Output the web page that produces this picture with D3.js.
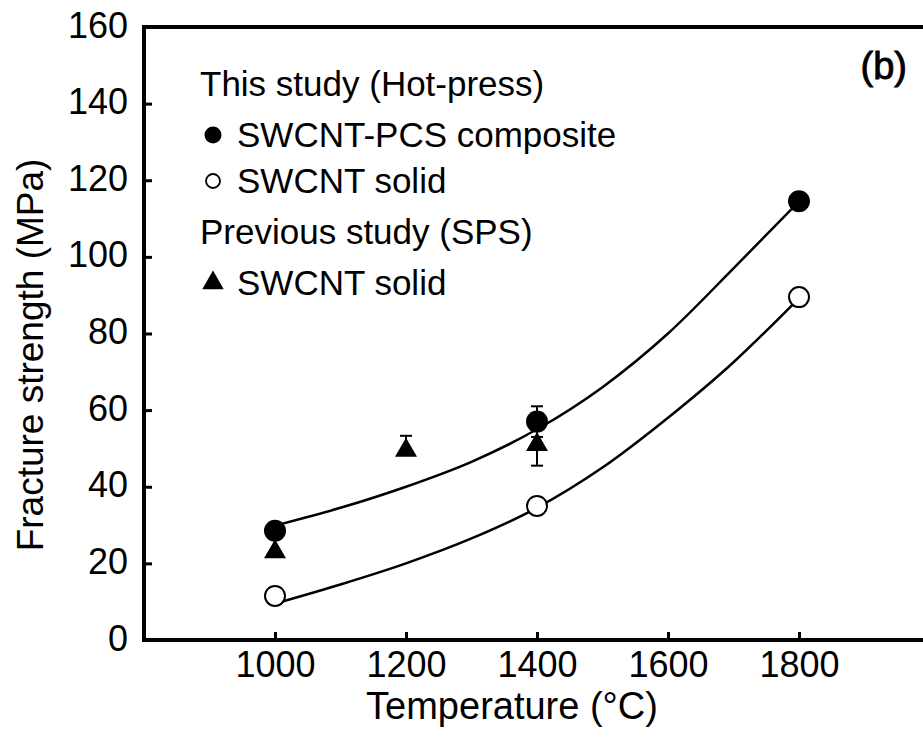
<!DOCTYPE html>
<html>
<head>
<meta charset="utf-8">
<script src="https://cdn.jsdelivr.net/npm/d3@7"></script>
<style>
  body { margin: 0; background: #fff; }
  svg { display: block; font-family: "Liberation Sans", Arial, sans-serif; }
</style>
</head>
<body>
<script>
const width = 923;
const height = 740;

// data
const temps = [1000, 1400, 1800];
const composite = [28.5, 57, 114.5];
const compositeErrUp = [0, 4, 0];
const compositeErrDown = [0, 4, 0];
const solid = [11.5, 35, 89.5];

const spsTemps = [1000, 1200, 1400];
const sps = [23, 49.5, 51];
const spsErrUp = [0, 3.8, 5.5];
const spsErrDown = [0, 1, 5.5];

// fitted curves
const fitTemps = [1010, 1100, 1200, 1300, 1400, 1500, 1600, 1700, 1790];
const fitComposite = [30.3, 34.5, 40, 46.5, 55, 66, 80, 97, 112.7];
const fitSolid = [10, 14.5, 20, 26.5, 34.5, 45, 58, 72.5, 87.5];

const xTicks = [1000, 1200, 1400, 1600, 1800];
const yTicks = [0, 20, 40, 60, 80, 100, 120, 140, 160];

const legendGroups = [
    {header: "This study (Hot-press)", items: [
        {label: "SWCNT-PCS composite", symbol: "filled"},
        {label: "SWCNT solid", symbol: "open"}
    ]},
    {header: "Previous study (SPS)", items: [
        {label: "SWCNT solid", symbol: "triangle"}
    ]}
];

const svg = d3.select("body").append("svg")
    .attr("width", width)
    .attr("height", height);

const xScale = d3.scaleLinear().domain([800, 2000]).range([144, 930]);
const yScale = d3.scaleLinear().domain([0, 160]).range([640, 27]);

// axes (inward ticks)
const xAxis = svg.append("g")
    .attr("transform", `translate(0,${yScale(0)})`)
    .call(d3.axisBottom(xScale).tickValues(xTicks).tickFormat(d3.format("d"))
        .tickSize(-8).tickPadding(11));
const yAxis = svg.append("g")
    .attr("transform", `translate(${xScale(800)},0)`)
    .call(d3.axisLeft(yScale).tickValues(yTicks).tickSize(-8).tickPadding(16));

[xAxis, yAxis].forEach(a => {
    a.select(".domain").remove();
    a.selectAll(".tick line").attr("stroke", "#000").attr("stroke-width", 3);
    a.selectAll(".tick text")
        .attr("fill", "#000")
        .style("font-size", "36px")
        .style("font-family", "Liberation Sans, Arial, sans-serif");
});
yAxis.selectAll(".tick text").attr("dy", "0.28em");

// frame (right side is outside the picture)
svg.append("path")
    .attr("d", `M${xScale(2000)},${yScale(160)} H${xScale(800)} V${yScale(0)} H${xScale(2000)}`)
    .attr("fill", "none")
    .attr("stroke", "#000")
    .attr("stroke-width", 4);

// axis titles
svg.append("text")
    .attr("x", 512)
    .attr("y", 719)
    .attr("text-anchor", "middle")
    .style("font-size", "38px")
    .text("Temperature (°C)");

svg.append("text")
    .attr("transform", "translate(43,355) rotate(-90)")
    .attr("text-anchor", "middle")
    .style("font-size", "37px")
    .text("Fracture strength (MPa)");

svg.append("text")
    .attr("x", 907)
    .attr("y", 79)
    .attr("text-anchor", "end")
    .style("font-size", "38px")
    .attr("stroke", "#000")
    .attr("stroke-width", 0.9)
    .text("(b)");

// fitted lines
const line = d3.line()
    .x(d => xScale(d[0]))
    .y(d => yScale(d[1]))
    .curve(d3.curveMonotoneX);

[fitComposite, fitSolid].forEach(vals => {
    svg.append("path")
        .datum(fitTemps.map((t, i) => [t, vals[i]]))
        .attr("d", line)
        .attr("fill", "none")
        .attr("stroke", "#000")
        .attr("stroke-width", 2.5);
});

// error bars
function errorBars(ts, vals, up, down) {
    const d = ts.map((t, i) => ({t, v: vals[i], u: up[i], l: down[i]})).filter(d => d.u > 0);
    const g = svg.append("g").attr("stroke", "#000").attr("stroke-width", 2);
    g.selectAll("line.v").data(d).enter().append("line")
        .attr("x1", d => xScale(d.t)).attr("x2", d => xScale(d.t))
        .attr("y1", d => yScale(d.v - d.l)).attr("y2", d => yScale(d.v + d.u));
    g.selectAll("line.top").data(d).enter().append("line")
        .attr("x1", d => xScale(d.t) - 6).attr("x2", d => xScale(d.t) + 6)
        .attr("y1", d => yScale(d.v + d.u)).attr("y2", d => yScale(d.v + d.u));
    g.selectAll("line.bot").data(d).enter().append("line")
        .attr("x1", d => xScale(d.t) - 6).attr("x2", d => xScale(d.t) + 6)
        .attr("y1", d => yScale(d.v - d.l)).attr("y2", d => yScale(d.v - d.l));
}
errorBars(temps, composite, compositeErrUp, compositeErrDown);
errorBars(spsTemps, sps, spsErrUp, spsErrDown);

// markers
const tri = d3.symbol().type(d3.symbolTriangle);

svg.selectAll(".solid").data(temps).enter().append("circle")
    .attr("class", "solid")
    .attr("cx", d => xScale(d))
    .attr("cy", (d, i) => yScale(solid[i]))
    .attr("r", 10)
    .attr("fill", "#fff")
    .attr("stroke", "#000")
    .attr("stroke-width", 2);

svg.selectAll(".composite").data(temps).enter().append("circle")
    .attr("class", "composite")
    .attr("cx", d => xScale(d))
    .attr("cy", (d, i) => yScale(composite[i]))
    .attr("r", 11)
    .attr("fill", "#000");

svg.selectAll(".sps").data(spsTemps).enter().append("path")
    .attr("class", "sps")
    .attr("d", tri.size(210))
    .attr("transform", (d, i) => `translate(${xScale(d)},${yScale(sps[i])})`)
    .attr("fill", "#000");

// legend
const legend = svg.append("g").style("font-size", "35px");
let ly = 96;
legendGroups.forEach(grp => {
    legend.append("text").attr("x", 200).attr("y", ly).text(grp.header);
    ly += 51;
    grp.items.forEach(it => {
        if (it.symbol === "filled") {
            legend.append("circle").attr("cx", 213).attr("cy", ly - 12).attr("r", 8.5).attr("fill", "#000");
        } else if (it.symbol === "open") {
            legend.append("circle").attr("cx", 213).attr("cy", ly - 12).attr("r", 7)
                .attr("fill", "#fff").attr("stroke", "#000").attr("stroke-width", 1.8);
        } else {
            legend.append("path").attr("d", tri.size(200))
                .attr("transform", `translate(213,${ly - 12})`).attr("fill", "#000");
        }
        legend.append("text").attr("x", 237).attr("y", ly).text(it.label);
        ly += 46;
    });
    ly += 5;
});
</script>
</body>
</html>
